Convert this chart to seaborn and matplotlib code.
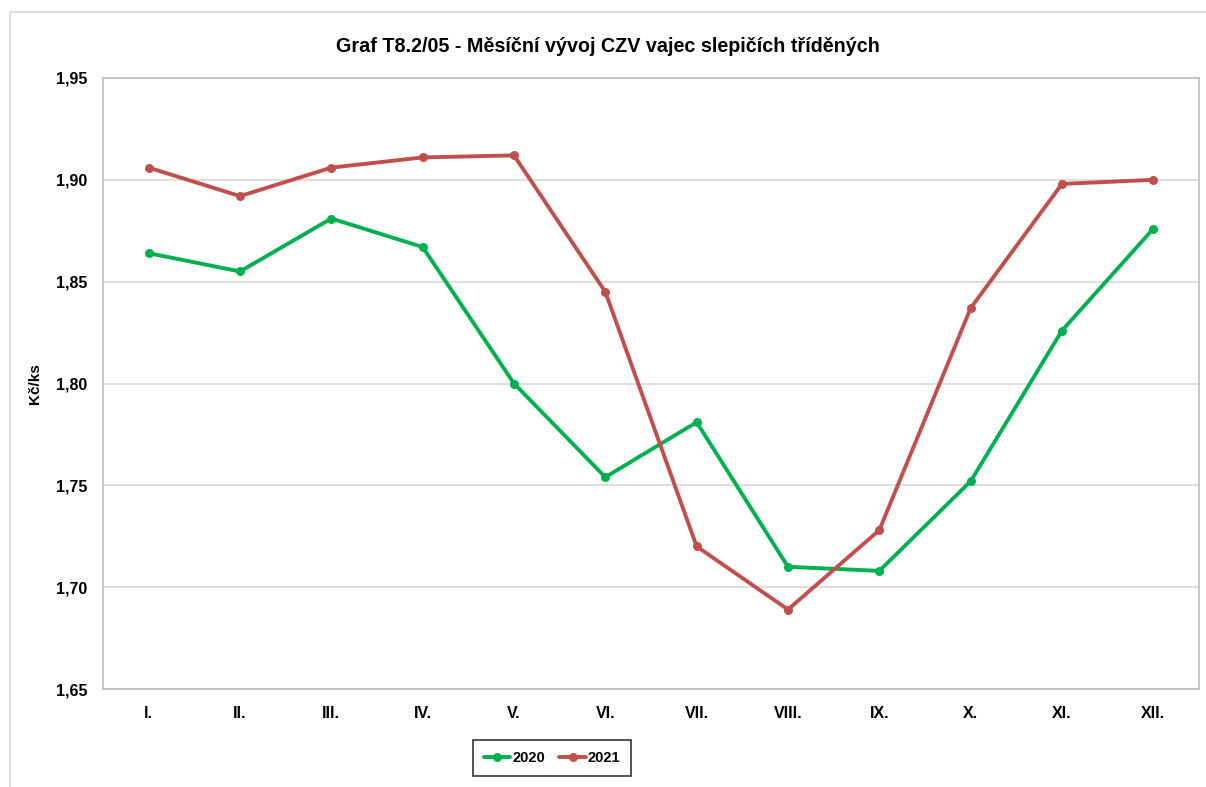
import numpy as np
import pandas as pd
import matplotlib
matplotlib.use("Agg")
import matplotlib.pyplot as plt
import seaborn as sns
from matplotlib.ticker import FuncFormatter
from matplotlib.patches import Rectangle

months = ["I.", "II.", "III.", "IV.", "V.", "VI.", "VII.", "VIII.", "IX.", "X.", "XI.", "XII."]
price_2020 = [1.864, 1.855, 1.881, 1.867, 1.800, 1.754, 1.781, 1.710, 1.708, 1.752, 1.826, 1.876]
price_2021 = [1.906, 1.892, 1.906, 1.911, 1.912, 1.845, 1.720, 1.689, 1.728, 1.837, 1.898, 1.900]
years = ["2020", "2021"]
colors = {"2020": "#00B050", "2021": "#C0504D"}

# long form table for seaborn
df = pd.DataFrame({
    "month": months * 2,
    "pos": list(range(len(months))) * 2,
    "price": price_2020 + price_2021,
    "year": [years[0]] * len(months) + [years[1]] * len(months),
})

sns.set_style("white")
plt.rcParams["font.family"] = ["Liberation Sans", "DejaVu Sans"]
plt.rcParams["text.color"] = "black"
plt.rcParams["axes.labelcolor"] = "black"
plt.rcParams["xtick.color"] = "black"
plt.rcParams["ytick.color"] = "black"

fig = plt.figure(figsize=(12.06, 7.87), dpi=100)
ax = fig.add_axes([103 / 1206, 1 - 689 / 787, 1096 / 1206, 611 / 787])

sns.lineplot(data=df, x="pos", y="price", hue="year", palette=colors,
             marker="o", markersize=6.5, markeredgewidth=0, linewidth=2.8,
             ax=ax, legend=True)

ax.set_xlim(-0.5, 11.5)
ax.set_ylim(1.65, 1.95)
ax.set_yticks(np.arange(1.65, 1.951, 0.05))
ax.yaxis.set_major_formatter(FuncFormatter(lambda v, p: f"{v:.2f}".replace(".", ",")))
ax.set_xticks(range(len(months)))
ax.set_xticklabels(months)
ax.grid(axis="y", color="#d9d9d9", linewidth=1.2)
ax.set_axisbelow(True)
for s in ax.spines.values():
    s.set_color("#bfbfbf")
    s.set_linewidth(1.2)
ax.tick_params(axis="both", length=0, labelsize=11.5)
ax.tick_params(axis="y", pad=11)
ax.tick_params(axis="x", pad=12)
for lab in ax.get_xticklabels() + ax.get_yticklabels():
    lab.set_fontweight("bold")

ax.set_xlabel("")
ax.set_ylabel("Kč/ks", fontsize=11, fontweight="bold", labelpad=10)

fig.text(0.504, 1 - 46 / 787, "Graf T8.2/05 - Měsíční vývoj CZV vajec slepičích tříděných",
         ha="center", va="center", fontsize=14.2, fontweight="bold")

handles, labels = ax.get_legend_handles_labels()
ax.legend_.remove()
leg = fig.legend(handles, labels, loc="center", bbox_to_anchor=(552 / 1206, 1 - 758 / 787),
                 ncol=2, frameon=True, fancybox=False, fontsize=10.5, handlelength=1.8,
                 columnspacing=1.0, handletextpad=0.15, borderpad=0.75)
leg.get_frame().set_edgecolor("black")
leg.get_frame().set_linewidth(1.2)
for t in leg.get_texts():
    t.set_fontweight("bold")

# outer chart border
fig.patches.append(Rectangle((10 / 1206, -0.1), 1.2, 1 - 12 / 787 + 0.1, transform=fig.transFigure,
                             fill=False, edgecolor="#d9d9d9", linewidth=1.2))

fig.savefig("out.png", dpi=100)
